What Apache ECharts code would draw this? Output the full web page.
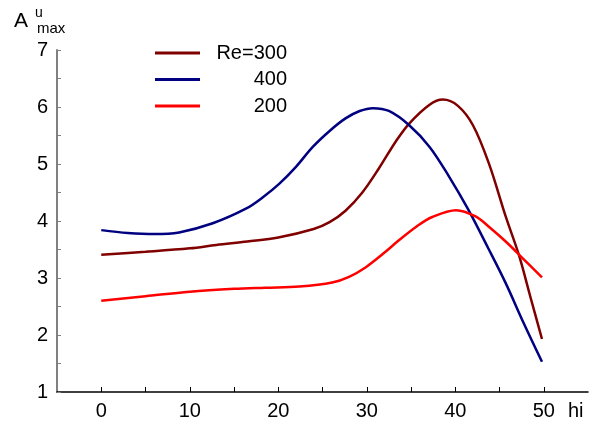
<!DOCTYPE html>
<html>
<head>
<meta charset="utf-8">
<script src="https://cdn.jsdelivr.net/npm/echarts@6/dist/echarts.min.js"></script>
<style>html,body{margin:0;padding:0;background:#fff}#c{width:590px;height:424px}</style>
</head>
<body>
<div id="c"></div>
<script>
var seriesNames = ['Re=300', '400', '200'];
var x300 = [0, 5, 10, 13, 16.5, 20, 24, 25.8, 27.6, 29.5, 31.4, 33.3, 34.8, 37.1, 38.6, 40.3, 42, 43.8, 45.7, 47.2, 48.4, 49.8];
var y300 = [3.41, 3.46, 3.52, 3.58, 3.64, 3.71, 3.86, 3.98, 4.18, 4.5, 4.93, 5.4, 5.71, 6.04, 6.13, 6.02, 5.68, 5.01, 4.08, 3.4, 2.72, 1.93];
var x400 = [0, 3, 6, 8.8, 12.6, 16.4, 18.3, 20.1, 22, 23.9, 25.8, 27.6, 29.2, 30.7, 32.5, 34.8, 37.1, 39.3, 41.4, 43.8, 45.7, 47.7, 49.8];
var y400 = [3.84, 3.79, 3.77, 3.8, 3.96, 4.22, 4.42, 4.65, 4.95, 5.3, 5.58, 5.8, 5.93, 5.98, 5.93, 5.68, 5.3, 4.78, 4.22, 3.5, 2.91, 2.22, 1.53];
var x200 = [0, 5, 10, 15, 18.5, 22.4, 26.1, 28, 29.9, 31.8, 33.7, 35.6, 37.4, 40.1, 42.3, 43.8, 45.7, 47.6, 49.8];
var y200 = [2.6, 2.68, 2.76, 2.81, 2.83, 2.85, 2.92, 3.02, 3.19, 3.42, 3.67, 3.9, 4.07, 4.19, 4.08, 3.9, 3.64, 3.35, 3.01];
var xTicks = [0, 5, 10, 15, 20, 25, 30, 35, 40, 45, 50];
var xLabels = [0, 10, 20, 30, 40, 50];

function pairs(xs, ys) { return xs.map(function (x, i) { return [x, ys[i]]; }); }

var chart = echarts.init(document.getElementById('c'));
var font = 'Liberation Sans, Arial, sans-serif';
function line(name, data, color) {
  return {
    name: name, type: 'line', data: data, smooth: 0.35,
    showSymbol: false, symbol: 'none',
    lineStyle: { color: color, width: 2.5 }, itemStyle: { color: color }
  };
}
chart.setOption({
  animation: false,
  grid: { left: 57, right: 2, top: 50, bottom: 32 },
  xAxis: {
    type: 'value', min: -5, max: 55,
    axisLine: { lineStyle: { color: '#000', width: 1.5 } },
    axisTick: { inside: true, length: 5, customValues: xTicks, lineStyle: { color: '#000', width: 1 } },
    axisLabel: { customValues: xLabels, color: '#000', fontSize: 20, fontFamily: font, margin: 9 },
    splitLine: { show: false }
  },
  yAxis: {
    type: 'value', min: 1, max: 7, interval: 1,
    axisLine: { show: true, onZero: false, lineStyle: { color: '#808080', width: 2 } },
    axisTick: { show: true, inside: true, length: 4, lineStyle: { color: '#808080', width: 1 } },
    minorTick: { show: true, splitNumber: 2, length: 4, lineStyle: { color: '#808080', width: 1 } },
    axisLabel: { color: '#000', fontSize: 20, fontFamily: font, margin: 9 },
    splitLine: { show: false }
  },
  legend: {
    orient: 'vertical', left: 150, top: 38, itemWidth: 45, itemHeight: 3, itemGap: 6.5,
    icon: 'rect', data: seriesNames,
    formatter: function (n) { return '{a|' + n + '}'; },
    textStyle: {
      rich: { a: { width: 82, align: 'right', fontSize: 20, lineHeight: 20, fontFamily: font, color: '#000' } }
    }
  },
  graphic: [
    { type: 'text', left: 14, top: 11, style: { text: 'A', fontSize: 21, fontFamily: font, fill: '#000' } },
    { type: 'text', left: 35, top: 6, style: { text: 'u', fontSize: 14, fontFamily: font, fill: '#000' } },
    { type: 'text', left: 37, top: 21, style: { text: 'max', fontSize: 15, fontFamily: font, fill: '#000' } },
    { type: 'text', left: 568, top: 401, style: { text: 'hi', fontSize: 20, fontFamily: font, fill: '#000' } }
  ],
  series: [
    line(seriesNames[0], pairs(x300, y300), '#800000'),
    line(seriesNames[1], pairs(x400, y400), '#000080'),
    line(seriesNames[2], pairs(x200, y200), '#ff0000')
  ]
});
</script>
</body>
</html>
